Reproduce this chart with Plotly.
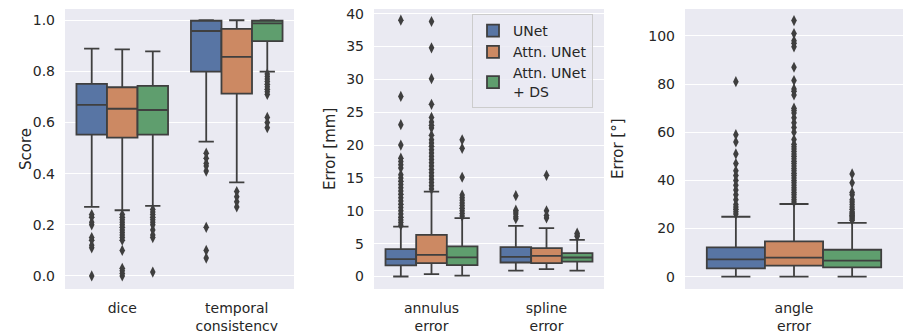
import plotly.graph_objects as go

# ---------------- data ----------------
models = ["UNet", "Attn. UNet", "Attn. UNet<br>+ DS"]
colors = ["#5875a4", "#cc8963", "#5f9e6e"]

# Panel 1: Score
cats1 = ["dice", "temporal<br>consistency"]
q1_1 = [[0.553, 0.799], [0.541, 0.713], [0.553, 0.918]]
med_1 = [[0.669, 0.958], [0.654, 0.857], [0.649, 0.988]]
q3_1 = [[0.751, 0.998], [0.738, 0.966], [0.743, 0.998]]
lo_1 = [[0.270, 0.525], [0.257, 0.366], [0.274, 0.799]]
hi_1 = [[0.889, 1.000], [0.886, 1.000], [0.878, 1.000]]
out_1 = [
    [[0.0, 0.11, 0.12, 0.14, 0.15, 0.20, 0.21, 0.23, 0.24],
     [0.07, 0.10, 0.19, 0.41, 0.43, 0.44, 0.46, 0.48]],
    [[0.0, 0.01, 0.02, 0.03, 0.10, 0.14, 0.15, 0.16, 0.17, 0.18, 0.19, 0.20, 0.21, 0.22, 0.23, 0.24],
     [0.27, 0.29, 0.31, 0.33]],
    [[0.015, 0.15, 0.16, 0.18, 0.20, 0.21, 0.22, 0.23, 0.24, 0.25, 0.26],
     [0.58, 0.60, 0.62, 0.71, 0.72, 0.73, 0.74, 0.75, 0.76, 0.77, 0.78, 0.79]],
]

# Panel 2: Error [mm]
cats2 = ["annulus<br>error", "spline<br>error"]
q1_2 = [[1.68, 2.13], [2.03, 2.03], [1.73, 2.28]]
med_2 = [[2.64, 3.00], [3.30, 3.15], [2.90, 2.89]]
q3_2 = [[4.17, 4.47], [6.34, 4.32], [4.57, 3.55]]
lo_2 = [[0.0, 0.91], [0.36, 1.12], [0.15, 0.91]]
hi_2 = [[7.6, 7.71], [12.93, 7.36], [8.88, 5.58]]
out_2 = [
    [[7.8, 8.2, 8.6, 9.0, 9.5, 10.0, 10.5, 11.0, 11.5, 12.0, 12.5, 13.0, 13.5, 14.0, 14.5,
      15.0, 15.5, 16.5, 17.0, 17.5, 18.0, 20.0, 23.1, 27.4, 39.0],
     [8.8, 9.1, 9.5, 9.8, 10.1, 12.3]],
    [[13.3, 13.8, 14.3, 14.8, 15.3, 15.8, 16.3, 16.8, 17.3, 17.8, 18.3, 18.8, 19.3, 19.8,
      20.3, 20.8, 21.5, 22.6, 23.0, 23.5, 24.2, 26.2, 30.1, 34.8, 38.8],
     [8.9, 9.3, 10.0, 15.4]],
    [[9.2, 9.6, 10.0, 10.4, 10.8, 11.2, 11.6, 12.0, 12.4, 15.1, 19.5, 20.8],
     [6.1, 6.3, 6.6]],
]

# Panel 3: Error [deg]
cats3 = ["angle<br>error"]
q1_3 = [[3.5], [4.6], [3.9]]
med_3 = [[7.2], [7.9], [6.65]]
q3_3 = [[12.2], [14.7], [11.2]]
lo_3 = [[0.0], [0.0], [0.0]]
hi_3 = [[24.9], [30.2], [22.4]]
out_3 = [
    [[26, 27, 28, 29, 30, 32, 34, 36, 38, 40, 42, 44, 47, 51, 56, 59, 81]],
    [[31, 32, 33, 34, 35, 36, 37, 38, 39, 40, 41, 42, 43, 44, 45, 46, 47, 48, 49, 50, 51,
      52, 53, 54, 55, 57, 60, 62, 64, 66, 68, 69, 70, 75.5, 77, 78, 81.5, 87, 95.5, 97,
      98, 101, 106.4]],
    [[23.5, 24, 24.5, 25, 25.5, 26, 26.5, 27, 28, 29, 30, 31, 32, 34, 35, 39, 42.7]],
]

# ---------------- figure ----------------
W, H = 904, 331
LINE = "#3f3f3f"
TXT = "#262626"
FONT = "DejaVu Sans"

fig = go.Figure()

panels = [
    (cats1, q1_1, med_1, q3_1, lo_1, hi_1, out_1, "x", "y"),
    (cats2, q1_2, med_2, q3_2, lo_2, hi_2, out_2, "x2", "y2"),
    (cats3, q1_3, med_3, q3_3, lo_3, hi_3, out_3, "x3", "y3"),
]

for pi, (cats, q1, med, q3, lo, hi, out, xa, ya) in enumerate(panels):
    for m in range(3):
        fig.add_trace(go.Box(
            x=cats, q1=q1[m], median=med[m], q3=q3[m],
            lowerfence=lo[m], upperfence=hi[m],
            y=out[m],
            boxpoints="all", jitter=0, pointpos=0,
            name=models[m], legendgroup=models[m],
            showlegend=(pi == 1),
            offsetgroup=str(m),
            fillcolor=colors[m],
            line=dict(color=LINE, width=1.8),
            whiskerwidth=0.5,
            marker=dict(symbol="diamond-tall", size=8, color=LINE,
                        line=dict(width=0)),
            xaxis=xa, yaxis=ya,
            hoverinfo="skip",
        ))

def px2x(p):
    return p / W

def px2y(p):
    return 1 - p / H

ydom = [px2y(289), px2y(9)]
common_x = dict(showgrid=False, zeroline=False, showline=False, ticks="",
                tickfont=dict(family=FONT, size=14, color=TXT),
                ticklabelstandoff=9, automargin=False, type="category")
common_y = dict(showgrid=True, gridcolor="white", gridwidth=1, zeroline=False,
                showline=False, ticks="",
                tickfont=dict(family=FONT, size=14, color=TXT),
                ticklabelstandoff=9, automargin=False)

fig.update_layout(
    width=W, height=H,
    margin=dict(l=0, r=0, t=0, b=0),
    paper_bgcolor="white",
    plot_bgcolor="#eaeaf2",
    boxmode="group", boxgap=0.2, boxgroupgap=0.0,
    font=dict(family=FONT, size=14, color=TXT),
    xaxis=dict(domain=[px2x(65), px2x(294)], anchor="y", range=[-0.5, 1.5], **common_x),
    xaxis2=dict(domain=[px2x(374), px2x(604)], anchor="y2", range=[-0.5, 1.5], **common_x),
    xaxis3=dict(domain=[px2x(685), px2x(903)], anchor="y3", range=[-0.5, 0.5], **common_x),
    yaxis=dict(domain=ydom, anchor="x", range=[-0.051, 1.044], tickvals=[0, 0.2, 0.4, 0.6, 0.8, 1.0],
               tickformat=".1f", **common_y),
    yaxis2=dict(domain=ydom, anchor="x2", range=[-1.9, 40.7], tickvals=[0, 5, 10, 15, 20, 25, 30, 35, 40],
                **common_y),
    yaxis3=dict(domain=ydom, anchor="x3", range=[-5.1, 111.2], tickvals=[0, 20, 40, 60, 80, 100],
                **common_y),
    legend=dict(x=px2x(472), y=px2y(14), xanchor="left", yanchor="top",
                bgcolor="rgba(234,234,242,0.8)", bordercolor="#cccccc", borderwidth=1,
                font=dict(family=FONT, size=14, color=TXT),
                tracegroupgap=0),
    annotations=[
        dict(text="Score", x=px2x(15), y=px2y(149), xref="paper", yref="paper",
             textangle=-90, showarrow=False, font=dict(family=FONT, size=15, color=TXT)),
        dict(text="Error [mm]", x=px2x(330), y=px2y(149), xref="paper", yref="paper",
             textangle=-90, showarrow=False, font=dict(family=FONT, size=15, color=TXT)),
        dict(text="Error [°]", x=px2x(629), y=px2y(149), xref="paper", yref="paper",
             textangle=-90, showarrow=False, font=dict(family=FONT, size=15, color=TXT)),
    ],
)

fig.write_html("out.html",
               config={"displayModeBar": False, "staticPlot": True},
               post_script="document.body.style.margin='0px';document.body.style.overflow='hidden';")
